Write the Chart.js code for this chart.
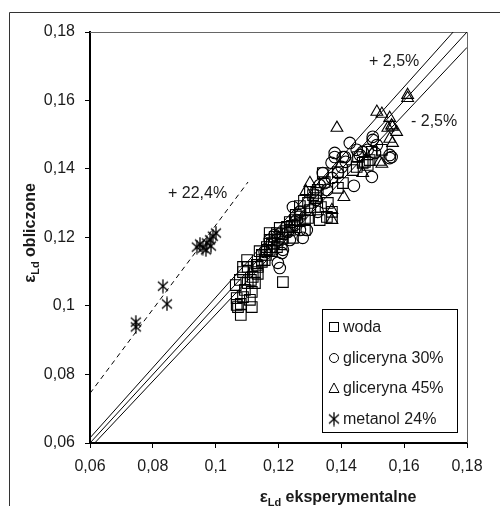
<!DOCTYPE html>
<html>
<head>
<meta charset="utf-8">
<script src="https://cdn.jsdelivr.net/npm/chart.js@4/dist/chart.umd.min.js"></script>
<style>
html,body{margin:0;padding:0;background:#fff;}
canvas{display:block;}
</style>
</head>
<body>
<canvas id="c" width="500" height="506"></canvas>
<script>
// ---- data ----
const xTicks = [0.06, 0.08, 0.10, 0.12, 0.14, 0.16, 0.18];
const xTickLabels = ['0,06', '0,08', '0,1', '0,12', '0,14', '0,16', '0,18'];
const yTicks = [0.06, 0.08, 0.10, 0.12, 0.14, 0.16, 0.18];
const yTickLabels = ['0,06', '0,08', '0,1', '0,12', '0,14', '0,16', '0,18'];

const seriesNames = ['woda', 'gliceryna 30%', 'gliceryna 45%', 'metanol 24%'];
const lineLabels = ['+ 2,5%', '- 2,5%', '+ 22,4%'];
const xTitle = ['ε', 'Ld', ' eksperymentalne'];
const yTitle = ['ε', 'Ld', ' obliczone'];

const wodaX = [.1080,.1071,.1067,.1093,.1109,.1115,.1080,.1064,.1077,.1087,.1102,.1125,.1134,.1100,.1087,.1112,.1147,.1163,.1179,.1195,
  .1204,.1163,.1147,.1172,.1188,.1214,.1214,.1227,.1236,.1252,.1284,.1294,.1300,.1300,.1316,.1294,.1319,.1335,.1354,.1370,
  .1370,.1357,.1347,.1341,.1389,.1405,.1389,.1437,.1453,.1475,.1490,.1468,.1449,.1497,.1484,.1236,.1529,.1284,.1331,.1172,
  .1195,.1156,.1131,.1118,.1102,.1087,.1115,.1067,.1140,.1180,.1210,.1250,.1270,.1320,
  .1147,.1160,.1172,.1185,.1198,.1211,.1223,.1243,.1255,.1268,.1281,.1310,.1325,.1134,.1125,.1268,.1246];
const wodaY = [.0974,.0997,.1023,.1047,.1018,.1041,.1006,.1061,.1076,.1099,.1114,.1099,.1114,.1134,.1114,.1076,.1134,.1164,.1184,.1213,
  .1228,.1172,.1149,.1193,.1202,.1070,.1199,.1231,.1245,.1251,.1222,.1301,.1333,.1280,.1289,.1257,.1315,.1289,.1260,.1275,
  .1257,.1301,.1362,.1388,.1345,.1359,.1391,.1397,.1435,.1421,.1426,.1418,.1406,.1450,.1412,.1222,.1456,.1251,.1251,.1213,
  .1172,.1134,.1120,.1085,.1067,.1026,.0997,.1003,.1160,.1160,.1180,.1230,.1270,.1330,
  .1129,.1149,.1164,.1181,.1193,.1210,.1219,.1234,.1266,.1292,.1307,.1324,.1339,.1094,.1067,.1248,.1199];

const gli30X = [.1198,.1211,.1204,.1258,.1268,.1246,.1277,.1290,.1341,.1347,.1379,.1369,.1401,.1389,.1411,.1427,.1500,.1513,.1484,.1560,
  .1554,.1497,.1379,.1405,.1459,.1507,.1440,.1468,.1554,.1500,.1172,.1188,.1214,.1230,.1252,.1319,.1354,.1325,.1414,.1449,
  .1156,.1236,.1268,.1370,.1331];
const gli30Y = [.1126,.1155,.1111,.1251,.1275,.1289,.1199,.1222,.1388,.1359,.1435,.1418,.1406,.1388,.1435,.1476,.1485,.1470,.1456,.1435,
  .1432,.1377,.1447,.1435,.1441,.1447,.1351,.1450,.1441,.1494,.1193,.1207,.1164,.1216,.1237,.1310,.1339,.1275,.1421,.1456,
  .1158,.1193,.1222,.1374,.1353];

const gli45X = [.1611,.1611,.1513,.1529,.1386,.1554,.1548,.1576,.1563,.1563,.1522,.1468,.1300,.1408,.1370,.1370,.1287,.1529,.1554,.1560];
const gli45Y = [.1616,.1607,.1567,.1561,.1520,.1549,.1520,.1508,.1523,.1476,.1421,.1388,.1359,.1318,.1280,.1251,.1335,.1415,.1488,.1527];

const metX = [.0746,.0746,.0832,.0845,.0940,.0950,.0959,.0972,.0982,.0991,.0985,.1001,.0969];
const metY = [.0953,.0939,.1058,.1006,.1172,.1181,.1169,.1184,.1193,.1204,.1175,.1213,.1164];

// reference lines (end points)
const lineEqX = [0.06, 0.18],     lineEqY = [0.06, 0.18];
const linePlusX = [0.06, 0.1756], linePlusY = [0.0615, 0.18];
const lineMinusX = [0.0615, 0.18], lineMinusY = [0.06, 0.1755];
const lineMetX = [0.06, 0.1103],  lineMetY = [0.0745, 0.1362];

// ---- build ----
const pts = (xs, ys) => xs.map((v, i) => ({x: v, y: ys[i]}));
const FONT = '"Liberation Sans", Arial, sans-serif';
const TXT = '#1a1a1a';

// Excel-like asterisk marker
const star = document.createElement('canvas');
star.width = 12; star.height = 15;
(function(){
  const s = star.getContext('2d');
  s.strokeStyle = '#000'; s.lineWidth = 1.3;
  s.beginPath();
  s.moveTo(6, 0.5); s.lineTo(6, 14.5);
  s.moveTo(1, 3); s.lineTo(11, 12);
  s.moveTo(11, 3); s.lineTo(1, 12);
  s.stroke();
})();

const markerDS = (label, data, style, r) => ({
  label, data, pointStyle: style, pointRadius: r, pointHoverRadius: r,
  pointBorderColor: '#000', pointBackgroundColor: 'rgba(0,0,0,0)', pointBorderWidth: 1.1,
  showLine: false
});
const lineDS = (data, dash) => ({
  data, showLine: true, borderColor: '#000', borderWidth: 1, borderDash: dash || [],
  pointRadius: 0, pointHoverRadius: 0, fill: false, clip: 0
});

function drawMixed(ctx, parts, cx, baseline) {
  const sizes = [17, 11, 16], dys = [0, 4, 0];
  let total = 0;
  const w = parts.map((t, i) => { ctx.font = 'bold ' + sizes[i] + 'px ' + FONT; const m = ctx.measureText(t).width; total += m; return m; });
  let x = cx - total / 2;
  parts.forEach((t, i) => {
    ctx.font = 'bold ' + sizes[i] + 'px ' + FONT;
    ctx.fillText(t, x, baseline + dys[i]);
    x += w[i];
  });
}

const deco = {
  id: 'deco',
  beforeDatasetsDraw(chart) {
    const {ctx, chartArea: a} = chart;
    ctx.save();
    ctx.strokeStyle = '#666'; ctx.lineWidth = 1;
    ctx.beginPath();
    ctx.moveTo(a.left, a.top + 0.5);
    ctx.lineTo(a.right + 0.5, a.top + 0.5);
    ctx.lineTo(a.right + 0.5, a.bottom);
    ctx.stroke();
    ctx.restore();
  },
  afterDraw(chart) {
    const ctx = chart.ctx;
    ctx.save();
    // outer frame (top & left visible)
    ctx.strokeStyle = '#333'; ctx.lineWidth = 1;
    ctx.beginPath();
    ctx.moveTo(9.5, 506); ctx.lineTo(9.5, 12.5); ctx.lineTo(500, 12.5);
    ctx.stroke();

    // line annotations
    ctx.fillStyle = TXT;
    ctx.font = '16px ' + FONT;
    ctx.textBaseline = 'middle';
    ctx.textAlign = 'left';
    ctx.fillText(lineLabels[0], 369, 62);
    ctx.fillText(lineLabels[1], 411, 122);
    ctx.fillText(lineLabels[2], 168, 194);

    // axis titles
    ctx.textBaseline = 'alphabetic';
    drawMixed(ctx, xTitle, 338, 502);
    ctx.save();
    ctx.translate(35, 233);
    ctx.rotate(-Math.PI / 2);
    drawMixed(ctx, yTitle, 0, 0);
    ctx.restore();

    // legend
    const L = 322.5, T = 309.5, W = 135, H = 123;
    ctx.fillStyle = '#fff';
    ctx.fillRect(L, T, W, H);
    ctx.strokeStyle = '#000';
    ctx.strokeRect(L, T, W, H);
    const rows = [327, 358, 388, 419];
    const mx = 334;
    ctx.lineWidth = 1;
    ctx.strokeRect(mx - 4.5, rows[0] - 4.5, 9, 9);
    ctx.beginPath(); ctx.arc(mx, rows[1], 4.5, 0, Math.PI * 2); ctx.stroke();
    ctx.beginPath();
    ctx.moveTo(mx, rows[2] - 5); ctx.lineTo(mx + 5, rows[2] + 4.5); ctx.lineTo(mx - 5, rows[2] + 4.5); ctx.closePath(); ctx.stroke();
    ctx.drawImage(star, mx - 6, rows[3] - 7.5);
    ctx.fillStyle = TXT;
    ctx.font = '16px ' + FONT;
    ctx.textBaseline = 'middle';
    seriesNames.forEach((n, i) => ctx.fillText(n, 343, rows[i] + 1));
    ctx.restore();
  }
};

new Chart(document.getElementById('c'), {
  type: 'scatter',
  data: {
    datasets: [
      lineDS(pts(lineEqX, lineEqY)),
      lineDS(pts(linePlusX, linePlusY)),
      lineDS(pts(lineMinusX, lineMinusY)),
      lineDS(pts(lineMetX, lineMetY), [5, 4]),
      markerDS(seriesNames[0], pts(wodaX, wodaY), 'rect', 7.5),
      markerDS(seriesNames[1], pts(gli30X, gli30Y), 'circle', 5.8),
      markerDS(seriesNames[2], pts(gli45X, gli45Y), 'triangle', 6.8),
      markerDS(seriesNames[3], pts(metX, metY), star, 6)
    ]
  },
  options: {
    responsive: false,
    devicePixelRatio: 1,
    animation: false,
    events: [],
    layout: { padding: { left: 0, top: 32, right: 33, bottom: 0 } },
    plugins: { legend: { display: false }, tooltip: { enabled: false } },
    scales: {
      x: {
        type: 'linear', min: 0.06, max: 0.18,
        afterBuildTicks: s => { s.ticks = xTicks.map(v => ({value: v})); },
        afterFit: s => { s.height = 63; },
        ticks: { callback: (v, i) => xTickLabels[i], color: TXT, font: { family: FONT, size: 16 }, padding: 9, maxRotation: 0, autoSkip: false },
        grid: { drawOnChartArea: false, drawTicks: true, tickLength: 5, color: '#000', lineWidth: 1 },
        border: { display: true, color: '#000', width: 2 }
      },
      y: {
        type: 'linear', min: 0.06, max: 0.18,
        afterBuildTicks: s => { s.ticks = yTicks.map(v => ({value: v})); },
        afterFit: s => { s.width = 90; },
        ticks: { callback: (v, i) => yTickLabels[i], color: TXT, font: { family: FONT, size: 16 }, padding: 10, autoSkip: false },
        grid: { drawOnChartArea: false, drawTicks: true, tickLength: 5, color: '#000', lineWidth: 1 },
        border: { display: true, color: '#000', width: 2 }
      }
    }
  },
  plugins: [deco]
});
</script>
</body>
</html>
